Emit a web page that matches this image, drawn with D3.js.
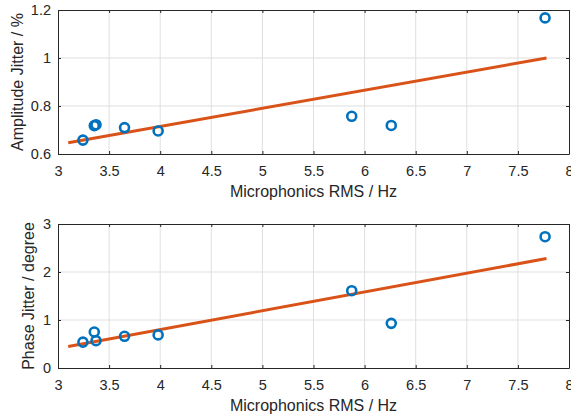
<!DOCTYPE html>
<html>
<head>
<meta charset="utf-8">
<script src="https://cdn.jsdelivr.net/npm/d3@7"></script>
<style>
  html, body { margin: 0; padding: 0; background: #fff; }
  svg { display: block; }
  text { font-family: "Liberation Sans", Arial, Helvetica, sans-serif; fill: #262626; }
</style>
</head>
<body>
<svg id="chart" width="571" height="414"></svg>
<script>
// Measured microphonics RMS (Hz) per run
const rmsHz = [3.244, 3.355, 3.372, 3.651, 3.98, 5.874, 6.261, 7.766];
// Amplitude jitter (%) per run
const ampJitter = [0.658, 0.718, 0.722, 0.710, 0.696, 0.757, 0.719, 1.167];
// Phase jitter (degree) per run
const phaseJitter = [0.54, 0.75, 0.57, 0.66, 0.69, 1.61, 0.93, 2.735];

// Linear fit end points
const fitX = [3.1, 7.78];
const fitAmp = [0.647, 1.0];
const fitPhase = [0.45, 2.28];

// Tick values
const xTicks = [3, 3.5, 4, 4.5, 5, 5.5, 6, 6.5, 7, 7.5, 8];
const ampTicks = [0.6, 0.8, 1, 1.2];
const phaseTicks = [0, 1, 2, 3];

const xLabel = "Microphonics RMS / Hz";

const svg = d3.select("#chart");
const left = 58, right = 569;

const panels = [
  { top: 10, bottom: 154, y: ampJitter, fit: fitAmp, yDomain: [0.6, 1.2], yTicks: ampTicks,
    yLabel: "Amplitude Jitter / %", yLabelX: 17 },
  { top: 224, bottom: 368, y: phaseJitter, fit: fitPhase, yDomain: [0, 3], yTicks: phaseTicks,
    yLabel: "Phase Jitter / degree", yLabelX: 28 }
];

const fmt = d => String(d);

panels.forEach(p => {
  const x = d3.scaleLinear().domain([3, 8]).range([left, right]);
  const y = d3.scaleLinear().domain(p.yDomain).range([p.bottom, p.top]);
  const g = svg.append("g");

  // grid
  g.append("g").selectAll("line").data(xTicks.slice(1, -1)).join("line")
    .attr("x1", d => x(d)).attr("x2", d => x(d))
    .attr("y1", p.top).attr("y2", p.bottom)
    .attr("stroke", "#dfdfdf").attr("stroke-width", 1);
  g.append("g").selectAll("line").data(p.yTicks.slice(1, -1)).join("line")
    .attr("y1", d => y(d)).attr("y2", d => y(d))
    .attr("x1", left).attr("x2", right)
    .attr("stroke", "#dfdfdf").attr("stroke-width", 1);

  // axes with inward ticks
  const xAxis = d3.axisBottom(x).tickValues(xTicks).tickFormat(fmt).tickSizeInner(-3).tickSizeOuter(0).tickPadding(12);
  const yAxis = d3.axisLeft(y).tickValues(p.yTicks).tickFormat(fmt).tickSizeInner(-3).tickSizeOuter(0).tickPadding(7);
  const xTop = d3.axisTop(x).tickValues(xTicks).tickFormat("").tickSizeInner(-3).tickSizeOuter(0);
  const yRight = d3.axisRight(y).tickValues(p.yTicks).tickFormat("").tickSizeInner(-3).tickSizeOuter(0);

  const gx = g.append("g").attr("transform", `translate(0,${p.bottom})`).call(xAxis);
  const gy = g.append("g").attr("transform", `translate(${left},0)`).call(yAxis);
  const gxt = g.append("g").attr("transform", `translate(0,${p.top})`).call(xTop);
  const gyr = g.append("g").attr("transform", `translate(${right},0)`).call(yRight);
  [gx, gy, gxt, gyr].forEach(a => {
    a.selectAll(".domain").attr("stroke", "#262626").attr("stroke-width", 1);
    a.selectAll(".tick line").attr("stroke", "#262626");
    a.selectAll("text").style("font-size", "14.5px").attr("fill", "#262626")
      .style("font-family", '"Liberation Sans", Arial, sans-serif');
  });

  // fit line
  g.append("path")
    .datum(fitX.map((v, i) => [v, p.fit[i]]))
    .attr("d", d3.line().x(d => x(d[0])).y(d => y(d[1])))
    .attr("fill", "none").attr("stroke", "#D95319").attr("stroke-width", 3);

  // data points
  g.append("g").selectAll("circle").data(rmsHz.map((v, i) => [v, p.y[i]])).join("circle")
    .attr("cx", d => x(d[0])).attr("cy", d => y(d[1])).attr("r", 4.5)
    .attr("fill", "none").attr("stroke", "#0072BD").attr("stroke-width", 2.6);

  // labels
  g.append("text")
    .attr("x", (left + right) / 2).attr("y", p.bottom + 43)
    .attr("text-anchor", "middle").style("font-size", "16px")
    .text(xLabel);
  g.append("text")
    .attr("transform", `translate(${p.yLabelX},${(p.top + p.bottom) / 2}) rotate(-90)`)
    .attr("text-anchor", "middle").attr("dy", "0.35em").style("font-size", "16px")
    .text(p.yLabel);
});
</script>
</body>
</html>
